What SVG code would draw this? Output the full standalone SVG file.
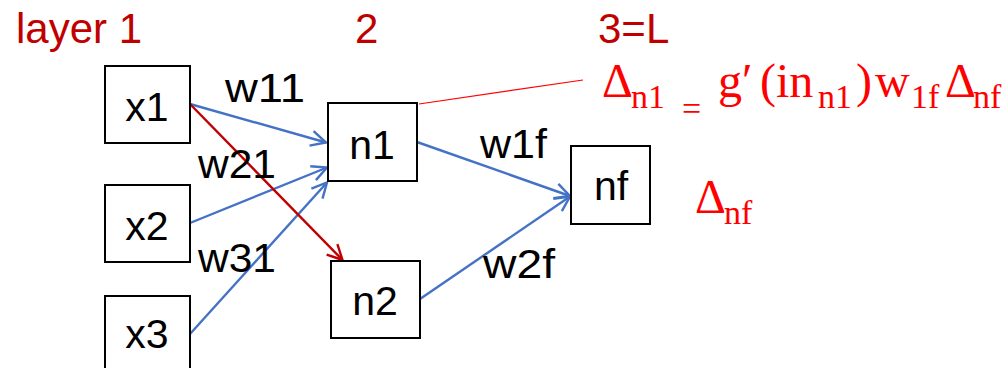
<svg xmlns="http://www.w3.org/2000/svg" width="1007" height="368" viewBox="0 0 1007 368">
<style>
.bg{fill:#ffffff}
.box{fill:#ffffff;stroke:#000000;stroke-width:2}
.lbl{font-family:"Liberation Sans",Arial,sans-serif;font-size:41px;fill:#000000}
.mid{text-anchor:middle}
.layer{font-family:"Liberation Sans",Arial,sans-serif;font-size:42px;fill:#C00000}
.blue{stroke:#4472C4;stroke-width:2.4;fill:none}
.dred{stroke:#C00000;stroke-width:2.4;fill:none}
.thin{stroke:#FF0000;stroke-width:1.2;fill:none}
.math{font-family:"Liberation Serif","DejaVu Serif",serif;fill:#FF0000}
.big{font-size:48px}
.sub{font-size:34px}
</style>
<defs>
<marker id="ab" viewBox="-17 -10 19 20" markerWidth="19" markerHeight="20" refX="0" refY="0" orient="auto" markerUnits="userSpaceOnUse">
<path d="M-15,-7.5 L0,0 L-15,7.5" fill="none" stroke="#4472C4" stroke-width="2.4"/>
</marker>
<marker id="ar" viewBox="-17 -10 19 20" markerWidth="19" markerHeight="20" refX="0" refY="0" orient="auto" markerUnits="userSpaceOnUse">
<path d="M-15,-7.5 L0,0 L-15,7.5" fill="none" stroke="#C00000" stroke-width="2.4"/>
</marker>
</defs>
<rect class="bg" x="0" y="0" width="1007" height="368"/>

<g id="layer-labels">
<text class="layer" x="16" y="43">layer 1</text>
<text class="layer" x="355" y="43">2</text>
<text class="layer" x="598" y="43">3=L</text>
</g>

<g id="connectors">
<line class="blue" x1="190" y1="104" x2="326" y2="142.5" marker-end="url(#ab)"/>
<line class="blue" x1="190" y1="223" x2="327" y2="167.5" marker-end="url(#ab)"/>
<line class="blue" x1="190" y1="334" x2="327" y2="182.5" marker-end="url(#ab)"/>
<line class="dred" x1="190" y1="104" x2="342.5" y2="260" marker-end="url(#ar)"/>
<line class="blue" x1="417" y1="142" x2="570" y2="196" marker-end="url(#ab)"/>
<line class="blue" x1="420" y1="299" x2="570" y2="196.5" marker-end="url(#ab)"/>
<line class="thin" x1="419" y1="104" x2="583" y2="80"/>
</g>

<g id="edge-labels">
<text class="lbl" x="225" y="102" textLength="80" lengthAdjust="spacingAndGlyphs">w11</text>
<text class="lbl" x="198" y="178" textLength="78" lengthAdjust="spacingAndGlyphs">w21</text>
<text class="lbl" x="198" y="272" textLength="78" lengthAdjust="spacingAndGlyphs">w31</text>
<text class="lbl" x="480" y="158" textLength="67" lengthAdjust="spacingAndGlyphs">w1f</text>
<text class="lbl" x="483" y="278" textLength="72" lengthAdjust="spacingAndGlyphs">w2f</text>
</g>

<g id="x1"><rect class="box" x="105" y="66" width="85" height="77"/><text class="lbl mid" x="147" y="121">x1</text></g>
<g id="x2"><rect class="box" x="105" y="185" width="85" height="77"/><text class="lbl mid" x="147" y="240">x2</text></g>
<g id="x3"><rect class="box" x="105" y="296" width="85" height="80"/><text class="lbl mid" x="147" y="348">x3</text></g>
<g id="n1"><rect class="box" x="328" y="103" width="89" height="78"/><text class="lbl mid" x="372" y="159">n1</text></g>
<g id="n2"><rect class="box" x="331" y="261" width="89" height="77"/><text class="lbl mid" x="375" y="315">n2</text></g>
<g id="nf"><rect class="box" x="571" y="146" width="79" height="78"/><text class="lbl mid" x="611" y="200">nf</text></g>

<g id="formula" class="math">
<text class="big" x="602" y="97">Δ</text>
<text class="sub" x="631" y="108">n1</text>
<text class="sub" x="682" y="120">=</text>
<text class="big" x="718" y="97">g′</text>
<text class="big" x="760" y="97">(</text>
<text class="big" x="776" y="97">in</text>
<text class="sub" x="818" y="108">n1</text>
<text class="big" x="856" y="97">)</text>
<text class="big" x="875" y="97">w</text>
<text class="sub" x="911" y="108">1f</text>
<text class="big" x="945" y="97">Δ</text>
<text class="sub" x="973" y="108">nf</text>
</g>

<g id="delta-nf" class="math">
<text class="big" x="695" y="213">Δ</text>
<text class="sub" x="724" y="224">nf</text>
</g>
</svg>
